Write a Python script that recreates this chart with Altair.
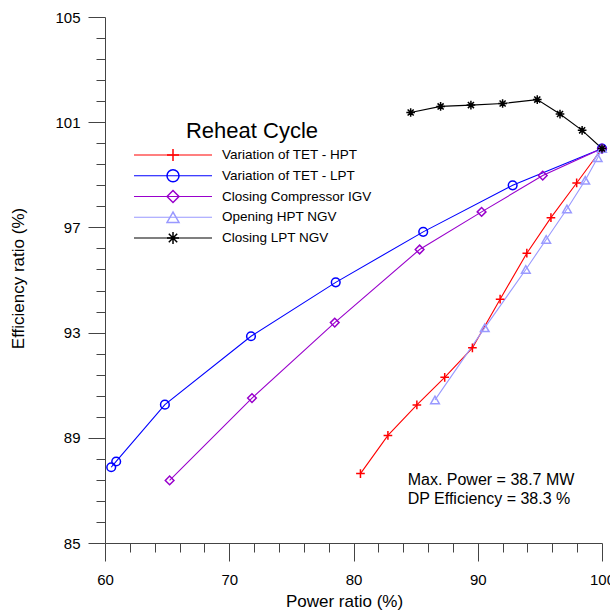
import altair as alt
import pandas as pd

# ---- data ----
names = ["Variation of TET - HPT", "Variation of TET - LPT", "Closing Compressor IGV",
         "Opening HPT NGV", "Closing LPT NGV"]
keys = ["k1", "k2", "k3", "k4", "k5"]
colors = ["#FF0000", "#0000FF", "#9900CC", "#9999FF", "#000000"]
plus_path = "M-1,0L1,0M0,-1L0,1"
star_path = "M-1,0L1,0M0,-1L0,1M-0.7,-0.7L0.7,0.7M-0.7,0.7L0.7,-0.7"
shapes = [plus_path, "circle", "diamond", "triangle-up", star_path]

hpt_x = [80.56, 82.77, 85.10, 87.34, 89.57, 91.80, 93.95, 95.89, 97.96, 100.0]
hpt_y = [87.64, 89.09, 90.25, 91.30, 92.42, 94.27, 96.02, 97.37, 98.69, 100.0]
lpt_x = [60.5, 60.9, 64.82, 71.75, 78.57, 85.61, 92.81, 100.0]
lpt_y = [87.88, 88.10, 90.26, 92.86, 94.91, 96.83, 98.60, 100.0]
igv_x = [65.2, 71.83, 78.49, 85.32, 90.31, 95.23, 100.0]
igv_y = [87.38, 90.51, 93.38, 96.16, 97.59, 98.97, 100.0]
hngv_x = [86.56, 90.56, 93.87, 95.51, 97.18, 98.65, 99.65, 100.0]
hngv_y = [90.44, 93.18, 95.40, 96.54, 97.70, 98.79, 99.65, 100.0]
lngv_x = [84.60, 87.01, 89.45, 92.00, 94.79, 96.62, 98.40, 100.0]
lngv_y = [101.37, 101.60, 101.65, 101.71, 101.86, 101.31, 100.69, 100.0]

x_ticks = list(range(60, 101, 2))
y_ticks = [round(85 + 0.8 * i, 1) for i in range(26)]
y_major = [85, 89, 93, 97, 101, 105]
note = "Max. Power = 38.7 MW\nDP Efficiency = 38.3 %"

series = [(hpt_x, hpt_y), (lpt_x, lpt_y), (igv_x, igv_y), (hngv_x, hngv_y), (lngv_x, lngv_y)]
rows = []
for i, (xs_, ys_) in enumerate(series):
    for j, (xv, yv) in enumerate(zip(xs_, ys_)):
        rows.append({"series": names[i], "key": keys[i], "x": xv, "y": yv, "ord": j, "sidx": i})
df = pd.DataFrame(rows)

FONT = "Liberation Sans"
major_test = "indexof(" + str(y_major).replace(" ", "") + ", datum.value) >= 0"

x_axis = alt.Axis(
    values=x_ticks, title="Power ratio (%)", grid=False,
    labelExpr="datum.value % 10 == 0 ? datum.label : ''",
    tickSize={"condition": {"test": "datum.value % 10 == 0", "value": 18}, "value": 9},
    labelOverlap=False, labelFlush=False, labelBound=False,
    labelFont=FONT, labelFontSize=15, labelColor="#000", labelPadding=11,
    titleFont=FONT, titleFontSize=17, titleFontWeight="normal", titleColor="#000",
    titleX=239, titleY=63.5, titleBaseline="alphabetic", titleAlign="center",
    domainColor="#444", tickColor="#444",
)
y_axis = alt.Axis(
    values=y_ticks, title="Efficiency ratio (%)", grid=False,
    labelExpr=major_test + " ? datum.label : ''",
    tickSize={"condition": {"test": major_test, "value": 17}, "value": 9},
    labelOverlap=False, labelFlush=False, labelBound=False,
    labelFont=FONT, labelFontSize=15, labelColor="#000", labelPadding=8,
    titleFont=FONT, titleFontSize=17, titleFontWeight="normal", titleColor="#000",
    titleX=-82, titleY=261, titleBaseline="alphabetic", titleAlign="center", titleAngle=270,
    domainColor="#444", tickColor="#444",
)

xs = alt.Scale(domain=[60, 100], nice=False, zero=False)
ys = alt.Scale(domain=[85, 105], nice=False, zero=False)
X = alt.X("x:Q", scale=xs, axis=x_axis)
Y = alt.Y("y:Q", scale=ys, axis=y_axis)

legend_common = dict(
    orient="none", padding=0,
    labelFont=FONT, labelFontSize=13.5, labelColor="#000",
    clipHeight=16, rowPadding=4.75,
)
legend_lines = alt.Legend(legendX=28, legendY=104, title="Reheat Cycle",
                          titleFont=FONT, titleFontSize=22, titleFontWeight="normal",
                          titleAnchor="middle", titlePadding=4, titleColor="#000",
                          symbolType="stroke", symbolSize=6084,
                          symbolStrokeWidth=1.2, labelOffset=9, **legend_common)
legend_marks = alt.Legend(legendX=61, legendY=130, title=None, symbolSize=144,
                          symbolStrokeWidth=1.5, symbolFillColor="transparent",
                          labelOpacity=0, **legend_common)

base = alt.Chart(df)
lines = base.mark_line(strokeWidth=1.1).encode(
    x=X, y=Y,
    color=alt.Color("series:N", scale=alt.Scale(domain=names, range=colors), legend=legend_lines),
    order="ord:Q",
)
points = base.mark_point(filled=False, strokeWidth=1.5, size=75, opacity=1).encode(
    x=X, y=Y,
    stroke=alt.Stroke("key:N", scale=alt.Scale(domain=keys, range=colors), legend=legend_marks),
    shape=alt.Shape("key:N", scale=alt.Scale(domain=keys, range=shapes), legend=legend_marks),
    order="sidx:Q",
)
text = alt.Chart(pd.DataFrame({"t": [note]})).mark_text(
    align="left", baseline="alphabetic", lineBreak="\n", lineHeight=19,
    font=FONT, fontSize=16, color="#000",
).encode(
    x=alt.X(datum=84.36, scale=xs, axis=x_axis),
    y=alt.Y(datum=87.21, scale=ys, axis=y_axis),
    text="t:N",
)

chart = alt.layer(lines, points, text).properties(
    width=497, height=526,
    autosize=alt.AutoSizeParams(type="none"),
    padding={"left": 105, "top": 17, "right": 8, "bottom": 70},
    background="white",
).configure_view(stroke=None)

chart.save("out.html", embed_options={"renderer": "svg", "actions": False})
